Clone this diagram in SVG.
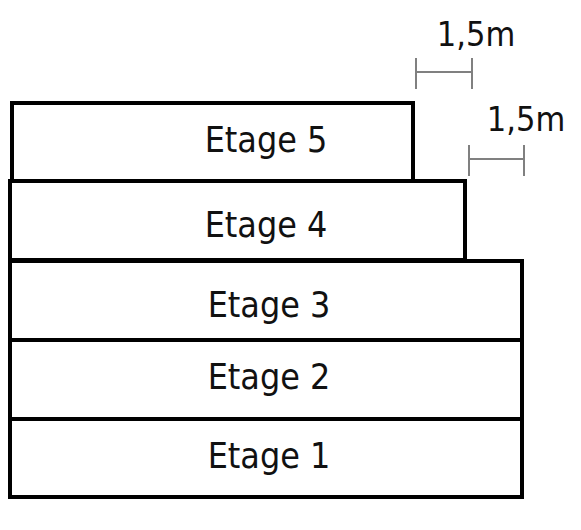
<svg xmlns="http://www.w3.org/2000/svg" width="581" height="530" viewBox="0 0 581 530">
<style>
.box{fill:#fff;stroke:#000;stroke-width:4}
.lbl{font-family:"DejaVu Sans Condensed","DejaVu Sans",sans-serif;font-size:35.5px;fill:#111;text-anchor:middle}
.dim{stroke:#808080;stroke-width:2;fill:none}
.dimt{font-family:"DejaVu Sans Condensed","DejaVu Sans",sans-serif;font-size:34px;fill:#111;text-anchor:middle}
</style>
<rect width="581" height="530" fill="#fff"/>
<g id="etage5"><rect class="box" x="12" y="103" width="401" height="78"/><text class="lbl" x="266" y="152">Etage 5</text></g>
<g id="etage4"><rect class="box" x="10" y="181" width="455" height="79"/><text class="lbl" x="266" y="237">Etage 4</text></g>
<g id="etage3"><rect class="box" x="10" y="261" width="512" height="79"/><text class="lbl" x="269" y="317">Etage 3</text></g>
<g id="etage2"><rect class="box" x="10" y="340" width="512" height="79"/><text class="lbl" x="269" y="389">Etage 2</text></g>
<g id="etage1"><rect class="box" x="10" y="419" width="512" height="78"/><text class="lbl" x="269" y="468">Etage 1</text></g>
<g id="dim1"><path class="dim" d="M416 58V89M472 58V89M416 72H472"/><text class="dimt" x="476" y="46">1,5m</text></g>
<g id="dim2"><path class="dim" d="M469 145V176M524 145V176M469 159H524"/><text class="dimt" x="526" y="131">1,5m</text></g>
</svg>
